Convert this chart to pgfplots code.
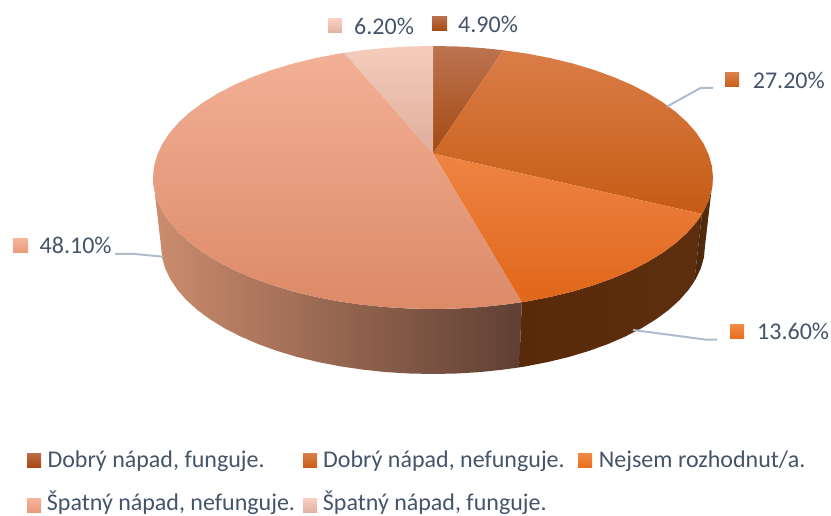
\documentclass[border=0pt]{standalone}
\usepackage{fontspec}
\setmainfont{Carlito}
\usepackage{pgfplots}
\pgfplotsset{compat=1.18}
\definecolor{txt}{HTML}{44546A}
\definecolor{leader}{HTML}{ADBDD0}
\definecolor{wallL}{HTML}{CC8D6E}\definecolor{wallM}{HTML}{A26A50}\definecolor{wallR}{HTML}{5F3F33}
\definecolor{wallC}{HTML}{592A0A}\definecolor{wallC2}{HTML}{5E2F0E}
\definecolor{wallB}{HTML}{4A2508}\definecolor{wallB2}{HTML}{5A3010}
\definecolor{sAt}{HTML}{BC7350}\definecolor{sAb}{HTML}{A44A12}
\definecolor{sBt}{HTML}{DA7D48}\definecolor{sBm}{HTML}{D0661F}\definecolor{sBb}{HTML}{C65C14}
\definecolor{sCt}{HTML}{EE8444}\definecolor{sCm}{HTML}{F27A2C}\definecolor{sCb}{HTML}{E0661A}
\definecolor{sDt}{HTML}{F2B096}\definecolor{sDm}{HTML}{EF9E7D}\definecolor{sDb}{HTML}{DC8A68}
\definecolor{sEt}{HTML}{F5CCBC}\definecolor{sEb}{HTML}{DFAE9B}
\definecolor{keyat}{HTML}{B96E48}\definecolor{keyab}{HTML}{A84A10}
\definecolor{keybt}{HTML}{DA7F4C}\definecolor{keybb}{HTML}{C95F18}
\definecolor{keyct}{HTML}{F28A48}\definecolor{keycb}{HTML}{EA6E1E}
\definecolor{keydt}{HTML}{F6B59C}\definecolor{keydb}{HTML}{E9997A}
\definecolor{keyet}{HTML}{F8D0C2}\definecolor{keyeb}{HTML}{E2B2A0}
% shares of the pie, in percent: 4.9, 27.2, 13.6, 48.1, 6.2
\tikzset{
  lab/.style={anchor=base west,inner sep=0pt,text=txt,font=\fontsize{24}{28}\selectfont},
}
\pgfplotsset{
  lead/.style={draw=leader,line width=2pt,no marks},
  keya/.style={draw=none,top color=keyat,bottom color=keyab},
  keyb/.style={draw=none,top color=keybt,bottom color=keybb},
  keyc/.style={draw=none,top color=keyct,bottom color=keycb},
  keyd/.style={draw=none,top color=keydt,bottom color=keydb},
  keye/.style={draw=none,top color=keyet,bottom color=keyeb},
}
\begin{document}
\begin{tikzpicture}
\path[use as bounding box] (0,0) rectangle (831pt,516pt);
\begin{axis}[
    at={(0pt,0pt)},anchor=south west,
    scale only axis,
    width=831pt,height=516pt,
    xmin=0,xmax=831,ymin=0,ymax=516,
    y dir=reverse,
    hide axis,
]
% side wall, 48.1 %
\addplot[draw=none,left color=wallL,middle color=wallM,right color=wallR] coordinates {
(521.8,302.2)(505.5,304.5)(481.6,307.0)(457.4,308.5)(433,309)(408.6,308.5)(384.4,307.0)(360.5,304.5)
(337.2,301.1)(314.7,296.7)(293,291.4)(272.4,285.2)(253,278.2)(235,270.5)(218.5,262.0)(203.6,252.9)
(190.5,243.25)(179.2,233.1)(169.9,222.5)(162.5,211.5)(157.3,200.3)(154.1,189.0)(153,177.5)
(161,246)(162,257.2)(165.1,268.2)(170.3,279.1)(177.4,289.8)(186.5,300.1)(197.4,310)(210.2,319.4)
(224.6,328.3)(240.7,336.5)(258.2,344.1)(277,350.9)(297,356.9)(318,362)(340,366.3)(362.6,369.6)
(385.8,372.1)(409.3,373.5)(433,374)(456.7,373.5)(480.2,372.1)(503.4,369.6)(519.3,367.4)
} -- cycle;
% side wall, 13.6 %
\addplot[draw=none,left color=wallC,right color=wallC2] coordinates {
(702,214)(696.1,222.5)(686.8,233.1)(675.5,243.25)(662.4,252.9)(647.5,262.0)(631,270.5)(613,278.2)
(593.6,285.2)(573,291.4)(551.3,296.7)(528.8,301.1)(521.8,302.2)
(519.3,367.4)(526,366.3)(548,362)(569,356.9)(589,350.9)(607.8,344.1)(625.3,336.5)(641.4,328.3)
(655.8,319.4)(668.6,310)(679.5,300.1)(688.6,289.8)(694.3,281.5)
} -- cycle;
% side wall, 27.2 %
\addplot[draw=none,left color=wallB,right color=wallB2] coordinates {
(713,177.5)(711.9,189.0)(708.7,200.3)(703.5,211.5)(702,214)
(694.3,281.5)(695.7,279.1)(700.9,268.2)(704,257.2)(705,246)
} -- cycle;
% top, 4.9 %
\addplot[draw=none,top color=sAt,bottom color=sAb] coordinates {
(433,153.5)(433,46)(457.4,46.5)(481.6,48.0)(503.1,50.2)
} -- cycle;
% top, 27.2 %
\addplot[draw=none,top color=sBt,middle color=sBm,bottom color=sBb] coordinates {
(433,153.5)(503.1,50.2)(528.8,53.9)(551.3,58.3)(573,63.6)(593.6,69.8)(613,76.8)(631,84.5)(647.5,93.0)
(662.4,102.1)(675.5,111.75)(686.8,121.9)(696.1,132.5)(703.5,143.5)(708.7,154.7)(711.9,166.0)(713,177.5)
(711.9,189.0)(708.7,200.3)(703.5,211.5)(702,214)
} -- cycle;
% top, 13.6 %
\addplot[draw=none,top color=sCt,middle color=sCm,bottom color=sCb] coordinates {
(433,153.5)(702,214)(696.1,222.5)(686.8,233.1)(675.5,243.25)(662.4,252.9)(647.5,262.0)(631,270.5)(613,278.2)
(593.6,285.2)(573,291.4)(551.3,296.7)(528.8,301.1)(521.8,302.2)
} -- cycle;
% top, 48.1 %
\addplot[draw=none,top color=sDt,middle color=sDm,bottom color=sDb] coordinates {
(433,153.5)(521.8,302.2)(505.5,304.5)(481.6,307.0)(457.4,308.5)(433,309)(408.6,308.5)(384.4,307.0)(360.5,304.5)
(337.2,301.1)(314.7,296.7)(293,291.4)(272.4,285.2)(253,278.2)(235,270.5)(218.5,262.0)(203.6,252.9)
(190.5,243.25)(179.2,233.1)(169.9,222.5)(162.5,211.5)(157.3,200.3)(154.1,189.0)(153,177.5)
(154.1,166.0)(157.3,154.7)(162.5,143.5)(169.9,132.5)(179.2,121.9)(190.5,111.75)(203.6,102.1)(218.5,93.0)
(235,84.5)(253,76.8)(272.4,69.8)(293,63.6)(314.7,58.3)(337.2,53.9)(344.2,52.8)
} -- cycle;
% top, 6.2 %
\addplot[draw=none,top color=sEt,bottom color=sEb] coordinates {
(433,153.5)(344.2,52.8)(360.5,50.5)(384.4,48.0)(408.6,46.5)(433,46)
} -- cycle;
% leader lines
\addplot[lead] coordinates {(667,106.5)(700.5,88)(713,88)};
\addplot[lead] coordinates {(633,330)(705,339.5)(717,339.5)};
\addplot[lead] coordinates {(115,254)(135,254)(163,256.7)};
% keys beside the values
\addplot[keye] coordinates {(328,19)(342,19)(342,33)(328,33)} -- cycle;
\addplot[keya] coordinates {(432,17)(447,17)(447,31)(432,31)} -- cycle;
\addplot[keyb] coordinates {(725,72.7)(739,72.7)(739,86.7)(725,86.7)} -- cycle;
\addplot[keyc] coordinates {(730,324)(744,324)(744,338)(730,338)} -- cycle;
\addplot[keyd] coordinates {(13,239)(28,239)(28,253)(13,253)} -- cycle;
% legend keys
\addplot[keya] coordinates {(27,453)(41,453)(41,467)(27,467)} -- cycle;
\addplot[keyb] coordinates {(303,453)(317,453)(317,467)(303,467)} -- cycle;
\addplot[keyc] coordinates {(578,453)(592,453)(592,467)(578,467)} -- cycle;
\addplot[keyd] coordinates {(27,498)(41,498)(41,512)(27,512)} -- cycle;
\addplot[keye] coordinates {(303,498)(317,498)(317,512)(303,512)} -- cycle;
% value labels
\node[lab] at (axis cs:354,35) {6.20\%};
\node[lab] at (axis cs:458,33) {4.90\%};
\node[lab] at (axis cs:752.7,89) {27.20\%};
\node[lab] at (axis cs:757,339.5) {13.60\%};
\node[lab] at (axis cs:39.5,254) {48.10\%};
% legend texts
\node[lab] at (axis cs:47.3,467) {Dobrý nápad, funguje.};
\node[lab] at (axis cs:323,467) {Dobrý nápad, nefunguje.};
\node[lab] at (axis cs:598.7,467) {Nejsem rozhodnut/a.};
\node[lab] at (axis cs:46.7,510.8) {Špatný nápad, nefunguje.};
\node[lab] at (axis cs:322.7,510.8) {Špatný nápad, funguje.};
\end{axis}
\end{tikzpicture}
\end{document}
